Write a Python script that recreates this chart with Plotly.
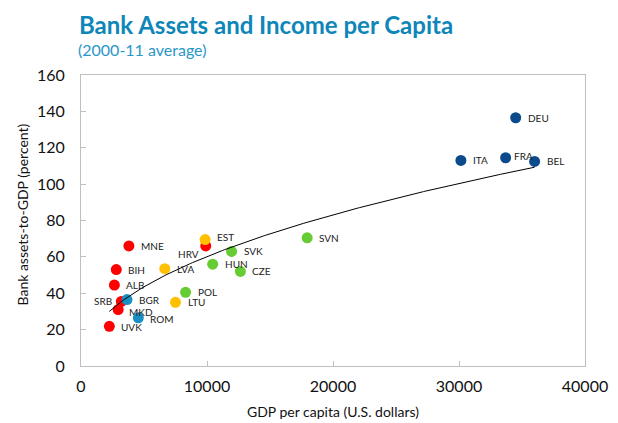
import numpy as np
import plotly.graph_objects as go

countries = ["DEU", "ITA", "FRA", "BEL",
             "SVN", "SVK", "HUN", "CZE", "POL",
             "EST", "LVA", "LTU",
             "BGR", "ROM",
             "HRV", "MNE", "BIH", "ALB", "SRB", "MKD", "UVK"]
gdp_per_capita = [34500, 30150, 33700, 36000,
                  17950, 11950, 10450, 12650, 8300,
                  9850, 6650, 7500,
                  3650, 4550,
                  9900, 3800, 2800, 2650, 3200, 2950, 2250]
bank_assets = [136.5, 113.0, 114.5, 112.5,
               70.5, 63.0, 56.0, 52.0, 40.5,
               69.5, 53.5, 35.0,
               36.5, 26.5,
               66.0, 66.0, 53.0, 44.5, 35.5, 31.0, 21.8]
groups = ["Euro core"] * 4 + ["CE"] * 5 + ["Baltics"] * 3 + ["SEE EU"] * 2 + ["Western Balkans"] * 7

x_ticks = [0, 10000, 20000, 30000, 40000]
y_ticks = [0, 20, 40, 60, 80, 100, 120, 140, 160]

FONT = "Lato, Open Sans, sans-serif"
group_colors = {
    "Western Balkans": "#FF0000",
    "Baltics": "#FFC000",
    "CE": "#66CC33",
    "SEE EU": "#1A8FC4",
    "Euro core": "#0B4A8B",
}
# label offsets in pixels (dx, dy, anchor) relative to the marker centre
label_offsets = {"SRB": (-7, 0, "right"), "HRV": (-5, 8, "right"), "FRA": (6, -2, "left"),
                 "MKD": (9, 2, "left"), "ROM": (10, 1, "left"), "UVK": (10, 1, "left"),
                 "EST": (10, -3, "left")}

fig = go.Figure()
order = ["Western Balkans", "Baltics", "CE", "SEE EU", "Euro core"]
for g in order:
    idx = [i for i, gg in enumerate(groups) if gg == g]
    fig.add_trace(go.Scatter(
        x=[gdp_per_capita[i] for i in idx],
        y=[bank_assets[i] for i in idx],
        text=[countries[i] for i in idx],
        mode="markers",
        marker=dict(size=11, color=group_colors[g]),
        showlegend=False, hoverinfo="x+y+text",
    ))

# power trendline fitted in log-log space (Excel style)
lx = np.log(np.array(gdp_per_capita, dtype=float))
ly = np.log(np.array(bank_assets, dtype=float))
p, c = np.polyfit(lx, ly, 1)
xt = np.linspace(min(gdp_per_capita), max(gdp_per_capita), 200)
yt = np.exp(c) * xt ** p
fig.add_trace(go.Scatter(x=xt, y=yt, mode="lines",
                         line=dict(color="black", width=1),
                         showlegend=False, hoverinfo="skip"))

annotations = []
for name, xv, yv in zip(countries, gdp_per_capita, bank_assets):
    dx, dy, anchor = label_offsets.get(name, (10, 0, "left"))
    annotations.append(dict(x=xv, y=yv, xref="x", yref="y", text=name, showarrow=False,
                            xanchor=anchor, yanchor="middle", xshift=dx, yshift=-dy,
                            font=dict(family=FONT, size=10, color="#222222")))

annotations += [
    dict(text="<b>Bank Assets and Income per Capita</b>", xref="paper", yref="paper",
         x=0, y=1, xshift=-4, yshift=51, xanchor="left", yanchor="middle", showarrow=False,
         font=dict(family=FONT, size=24, color="#0E86B8")),
    dict(text="(2000-11 average)", xref="paper", yref="paper",
         x=0, y=1, xshift=-5, yshift=26, xanchor="left", yanchor="middle", showarrow=False,
         font=dict(family=FONT, size=16, color="#2A96C8")),
    dict(text="GDP per capita (U.S. dollars)", xref="paper", yref="paper",
         x=0.5, y=0, yshift=-45, xanchor="center", yanchor="middle", showarrow=False,
         font=dict(family=FONT, size=14, color="#111111")),
    dict(text="Bank assets-to-GDP (percent)", xref="paper", yref="paper", textangle=-90,
         x=0, y=0.5, xshift=-59, yshift=6, xanchor="center", yanchor="middle", showarrow=False,
         font=dict(family=FONT, size=14, color="#111111")),
]

axis_font = dict(family=FONT, size=16, color="#111111")
# the page body adds an 8px margin, so the figure is 8px smaller and shifted
fig.update_layout(
    width=610, height=415,
    margin=dict(l=73, r=33, t=67, b=57, autoexpand=False),
    paper_bgcolor="white", plot_bgcolor="white",
    font=dict(family=FONT),
    annotations=annotations,
)
fig.update_xaxes(
    range=[0, 40000], tickvals=x_ticks, ticktext=[str(v) for v in x_ticks],
    showgrid=False, zeroline=False, showline=True, linecolor="#BFBFBF", linewidth=1,
    mirror=True, ticks="inside", ticklen=5, tickcolor="#BFBFBF",
    tickfont=axis_font, ticklabelstandoff=6, automargin=False,
)
fig.update_yaxes(
    range=[0, 160], tickvals=y_ticks, ticktext=[str(v) for v in y_ticks],
    showgrid=False, zeroline=False, showline=True, linecolor="#BFBFBF", linewidth=1,
    mirror=True, ticks="inside", ticklen=5, tickcolor="#BFBFBF",
    tickfont=axis_font, ticklabelstandoff=12, automargin=False,
)
fig.write_html("out.html")
